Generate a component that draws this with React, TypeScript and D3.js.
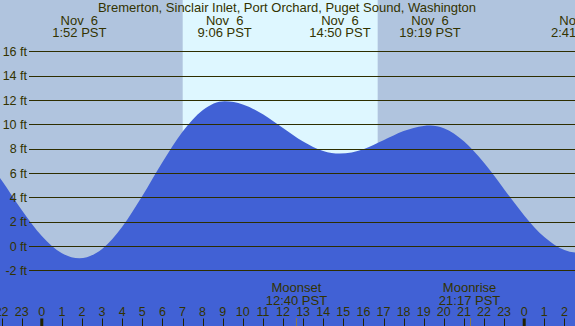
import React from 'react';
import * as d3 from 'd3';

const title = 'Bremerton, Sinclair Inlet, Port Orchard, Puget Sound, Washington';

// tide height readings (hours since midnight Nov 6, feet)
const sampleHours = [-3, -2, -1, 0, 1, 1.87, 3, 4, 5, 6, 7, 8, 9.1, 10, 11, 12, 13, 14, 14.83, 16, 17, 18, 19, 19.32, 20, 21, 22, 23, 24, 25, 26, 26.68, 27];
const sampleHeights = [7.67, 5.41, 2.97, 0.83, -0.59, -1.0, -0.24, 1.58, 4.11, 6.88, 9.4, 11.17, 11.9, 11.64, 10.84, 9.71, 8.6, 7.82, 7.6, 7.96, 8.69, 9.45, 9.87, 9.9, 9.68, 8.61, 6.84, 4.68, 2.52, 0.74, -0.33, -0.55, -0.52];

// high / low tide labels
const tideHours = [1.867, 9.1, 14.833, 19.317, 26.683];
const tideDates = ['Nov  6', 'Nov  6', 'Nov  6', 'Nov  6', 'Nov  7'];
const tideTimes = ['1:52 PST', '9:06 PST', '14:50 PST', '19:19 PST', '2:41 PST'];

// moon events
const moonHours = [12.667, 21.283];
const moonNames = ['Moonset', 'Moonrise'];
const moonTimes = ['12:40 PST', '21:17 PST'];

// daylight
const sunriseHour = 7.01;
const sunsetHour = 16.71;

const yTicks = [-2, 0, 2, 4, 6, 8, 10, 12, 14, 16];
const hourTicks = d3.range(-2, 27);

const W = 575;
const H = 326;
const FONT = '"Liberation Sans", Arial, sans-serif';
const TXT = '#333300';

export default function App() {
  const x = d3.scaleLinear().domain([0, 24]).range([41.8, 524.2]);
  const y = d3.scaleLinear().domain([-2, 16]).range([270.4, 51.4]);

  const pts = sampleHours.map((h, i) => [h, sampleHeights[i]] as [number, number]);
  const area = d3
    .area<[number, number]>()
    .x((d) => x(d[0]))
    .y0(H)
    .y1((d) => y(d[1]))
    .curve(d3.curveMonotoneX);

  const crisp = (v: number) => Math.round(v) + 0.5;

  return (
    <svg
      width={W}
      height={H}
      style={{ position: 'fixed', left: 0, top: 0, display: 'block' }}
      fontFamily={FONT}
    >
      <rect x={0} y={0} width={W} height={H} fill="#B0C4DE" />
      <rect
        x={x(sunriseHour)}
        y={0}
        width={x(sunsetHour) - x(sunriseHour)}
        height={H}
        fill="#DEF7FF"
      />
      <path d={area(pts) || ''} fill="#4161D5" />
      {yTicks.map((v) => (
        <g key={v}>
          <line x1={29} x2={W} y1={crisp(y(v))} y2={crisp(y(v))} stroke="#2E2E00" strokeWidth={1} />
          <text x={27} y={y(v) + 4.5} textAnchor="end" fontSize={12.5} fill={TXT}>
            {v} ft
          </text>
        </g>
      ))}
      <text x={287} y={12} textAnchor="middle" fontSize={13} fill={TXT}>
        {title}
      </text>
      {tideHours.map((h, i) => (
        <g key={i}>
          <text x={x(h)} y={24.5} textAnchor="middle" fontSize={13} fill={TXT} style={{ whiteSpace: 'pre' }}>
            {tideDates[i]}
          </text>
          <text x={x(h)} y={36.5} textAnchor="middle" fontSize={13} fill={TXT}>
            {tideTimes[i]}
          </text>
        </g>
      ))}
      {moonHours.map((h, i) => (
        <g key={i}>
          <text x={x(h)} y={291.5} textAnchor="middle" fontSize={13} fill={TXT}>
            {moonNames[i]}
          </text>
          <text x={x(h)} y={304.5} textAnchor="middle" fontSize={13} fill={TXT}>
            {moonTimes[i]}
          </text>
          <line x1={crisp(x(h))} x2={crisp(x(h))} y1={318} y2={H} stroke="#8C7A4A" strokeWidth={1} />
        </g>
      ))}
      {hourTicks.map((h) => {
        const hr = ((h % 24) + 24) % 24;
        const midnight = hr === 0;
        return (
          <g key={h}>
            <text x={x(h)} y={315.5} textAnchor="middle" fontSize={12.5} fill={TXT}>
              {hr}
            </text>
            <line
              x1={midnight ? x(h) : crisp(x(h))}
              x2={midnight ? x(h) : crisp(x(h))}
              y1={318.5}
              y2={H}
              stroke="#222200"
              strokeWidth={midnight ? 3 : 1}
            />
          </g>
        );
      })}
    </svg>
  );
}
